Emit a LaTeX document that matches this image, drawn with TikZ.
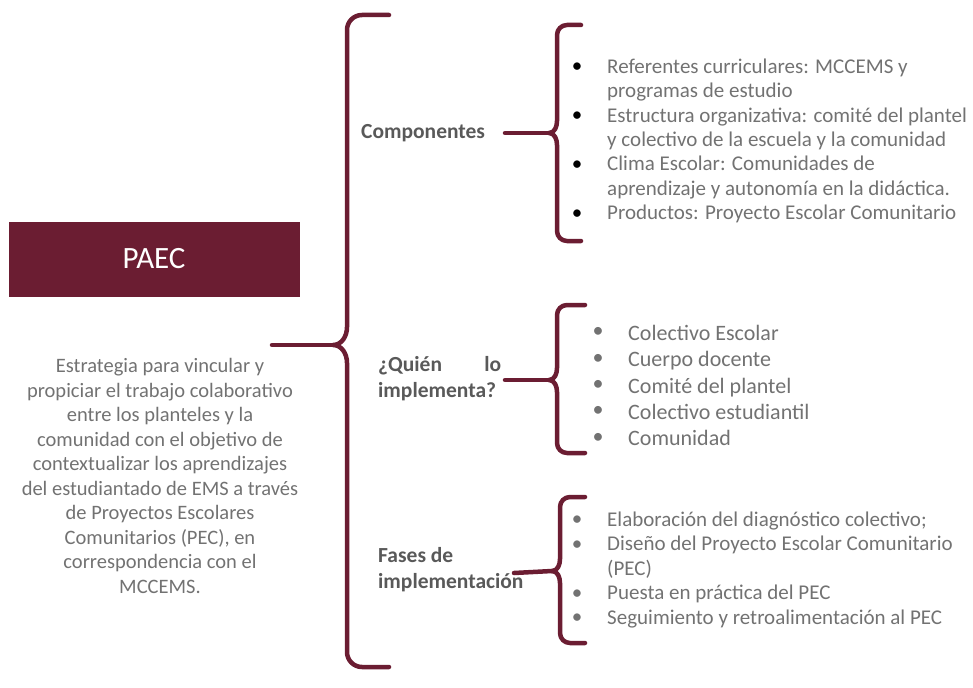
\documentclass[tikz,border=0pt]{standalone}
\usepackage{fontspec}
\setmainfont{Carlito}
\definecolor{guinda}{HTML}{6B1D32}
\definecolor{txtgray}{HTML}{727272}
\definecolor{headgray}{HTML}{595959}
\tikzset{
  brace/.style={draw=guinda, line width=4.5pt, line cap=round, line join=round},
  heading/.style={anchor=west, inner sep=0pt, text=headgray, font=\fontsize{21.5}{26}\selectfont\bfseries, align=left},
  listtxt/.style={anchor=west, inner sep=0pt, text=txtgray, align=left},
  dots/.style={anchor=center, inner sep=0pt, align=center}
}
\begin{document}
\begin{tikzpicture}[x=1pt, y=-1pt]
\useasboundingbox (0,0) rectangle (973,687);
% left side
\node[fill=guinda, minimum width=291pt, minimum height=75pt, inner sep=0pt, text=white, font=\fontsize{31}{34}\selectfont] (paec) at (154,259) {PAEC};
\node[inner sep=0pt, text=txtgray, align=center, font=\fontsize{20.5}{24.5}\selectfont] (desc) at (160,476) {Estrategia para vincular y\\propiciar el trabajo colaborativo\\entre los planteles y la\\comunidad con el objetivo de\\contextualizar los aprendizajes\\del estudiantado de EMS a través\\de Proyectos Escolares\\Comunitarios (PEC), en\\correspondencia con el\\MCCEMS.};
% big brace
\coordinate (bigtip) at (333,345);
\coordinate (bigin) at (272,345);
\draw[brace] (389,15) -- (362,15) to[out=180,in=90] (347,30) -- (347,327) to[out=-90,in=0] (bigtip) to[out=0,in=90] (347,363) -- (347,652) to[out=-90,in=180] (362,667) -- (389,667);
\draw[brace] (bigin) -- (bigtip);
% headings
\node[heading] (comp) at (361,133) {Componentes};
\node[heading, text width=123pt] (quien) at (378,379) {¿Quién \hfill lo\\implementa?};
\node[heading] (fases) at (378,570) {Fases de\\implementación};
% brace 1
\coordinate (tipa) at (549,133);
\coordinate (ina) at (505,133);
\draw[brace] (581,25) -- (567,25) to[out=180,in=90] (557,35) -- (557,121) to[out=-90,in=0] (tipa) to[out=0,in=90] (557,145) -- (557,231) to[out=-90,in=180] (567,241) -- (581,241);
\draw[brace] (ina) -- (tipa);
\node[dots, font=\fontsize{21}{24.4}\selectfont] (bula) at (577,141) {•\\ \\•\\ \\•\\ \\•};
\node[listtxt, font=\fontsize{21}{24.4}\selectfont] (lista) at (607,141) {Referentes curriculares: MCCEMS y\\programas de estudio\\Estructura organizativa: comité del plantel\\y colectivo de la escuela y la comunidad\\Clima Escolar: Comunidades de\\aprendizaje y autonomía en la didáctica.\\Productos: Proyecto Escolar Comunitario};
% brace 2
\coordinate (tipb) at (549,380);
\coordinate (inb) at (505,380);
\draw[brace] (585,305) -- (567,305) to[out=180,in=90] (557,315) -- (557,368) to[out=-90,in=0] (tipb) to[out=0,in=90] (557,392) -- (557,443) to[out=-90,in=180] (567,453) -- (585,453);
\draw[brace] (inb) -- (tipb);
\node[dots, text=txtgray, font=\fontsize{22}{26.3}\selectfont] (bulb) at (598,385.5) {•\\•\\•\\•\\•};
\node[listtxt, font=\fontsize{22}{26.3}\selectfont] (listb) at (628,385.5) {Colectivo Escolar\\Cuerpo docente\\Comité del plantel\\Colectivo estudiantil\\Comunidad};
% brace 3
\coordinate (tipc) at (552,571);
\coordinate (inc) at (514,573);
\draw[brace] (585,497) -- (570,497) to[out=180,in=90] (560,507) -- (560,559) to[out=-90,in=0] (tipc) to[out=0,in=90] (560,583) -- (560,633) to[out=-90,in=180] (570,643) -- (585,643);
\draw[brace] (inc) -- (tipc);
\node[dots, text=txtgray, font=\fontsize{21}{24.5}\selectfont] (bulc) at (577,570) {•\\•\\ \\•\\•};
\node[listtxt, font=\fontsize{21}{24.5}\selectfont] (listc) at (607,570) {Elaboración del diagnóstico colectivo;\\Diseño del Proyecto Escolar Comunitario\\(PEC)\\Puesta en práctica del PEC\\Seguimiento y retroalimentación al PEC};
\end{tikzpicture}
\end{document}
